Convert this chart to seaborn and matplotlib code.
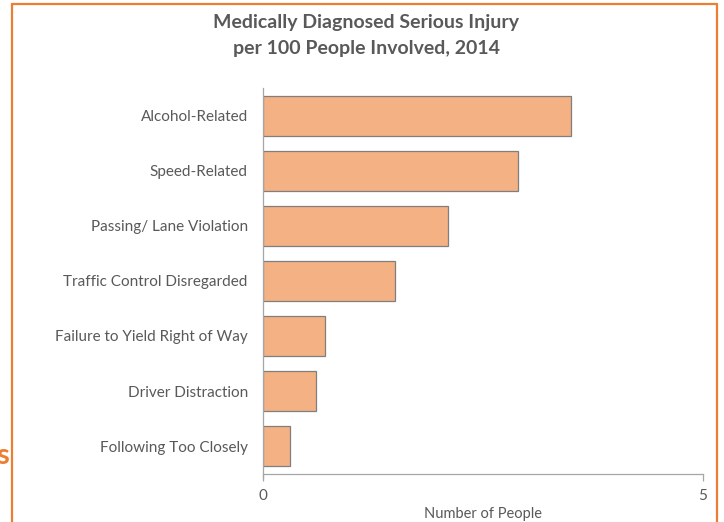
import pandas as pd
import matplotlib.pyplot as plt
import seaborn as sns
from matplotlib.lines import Line2D

# Data
categories = ['Alcohol-Related', 'Speed-Related', 'Passing/ Lane Violation',
              'Traffic Control Disregarded', 'Failure to Yield Right of Way',
              'Driver Distraction', 'Following Too Closely']
injuries = [3.5, 2.9, 2.1, 1.5, 0.7, 0.6, 0.31]

df = pd.DataFrame({'factor': categories, 'injury': injuries})

sns.set_style('white')
plt.rcParams['font.family'] = ['Lato', 'DejaVu Sans']

text_gray = '#595959'
fig = plt.figure(figsize=(7.24, 5.22), dpi=100)
ax = fig.add_axes([0.3633, 0.0929, 0.6077, 0.7376])

sns.barplot(data=df, x='injury', y='factor', orient='h', color='#F4B183',
            saturation=1, width=0.71, edgecolor='#7F7F7F', linewidth=0.9, ax=ax)

ax.set_xlim(0, 5)
ax.set_ylim(6.5, -0.5)
ax.set_xticks([0, 5])
ax.set_xlabel('Number of People', color=text_gray, fontsize=10.5, labelpad=3)
ax.set_ylabel('')
ax.tick_params(axis='x', colors=text_gray, labelsize=11, length=5, width=0.9,
               color='#A6A6A6', pad=6, direction='out', bottom=True)
ax.tick_params(axis='y', colors=text_gray, labelsize=11, length=0, pad=11)
for s in ['top', 'right']:
    ax.spines[s].set_visible(False)
for s in ['left', 'bottom']:
    ax.spines[s].set_color('#A6A6A6')
    ax.spines[s].set_linewidth(0.9)
ax.spines['left'].set_bounds(6.58, -0.5)

fig.text(0.506, 0.957, 'Medically Diagnosed Serious Injury', ha='center', va='center',
         fontsize=14, fontweight='bold', color=text_gray)
fig.text(0.506, 0.907, 'per 100 People Involved, 2014', ha='center', va='center',
         fontsize=14, fontweight='bold', color=text_gray)

# orange frame of the surrounding slide
orange = '#ED7D31'
fig.add_artist(Line2D([12 / 724, 12 / 724], [0, 1 - 4 / 522], transform=fig.transFigure,
                      color=orange, linewidth=1.6))
fig.add_artist(Line2D([12 / 724, 717 / 724], [1 - 4 / 522, 1 - 4 / 522],
                      transform=fig.transFigure, color=orange, linewidth=1.6))
fig.add_artist(Line2D([717 / 724, 717 / 724], [1 - 4 / 522, 0], transform=fig.transFigure,
                      color=orange, linewidth=1.6))
fig.text(9 / 724, 1 - 456 / 522, 's', ha='right', va='center', fontsize=21,
         fontweight='bold', color=orange)

fig.savefig('out.png', dpi=100)
